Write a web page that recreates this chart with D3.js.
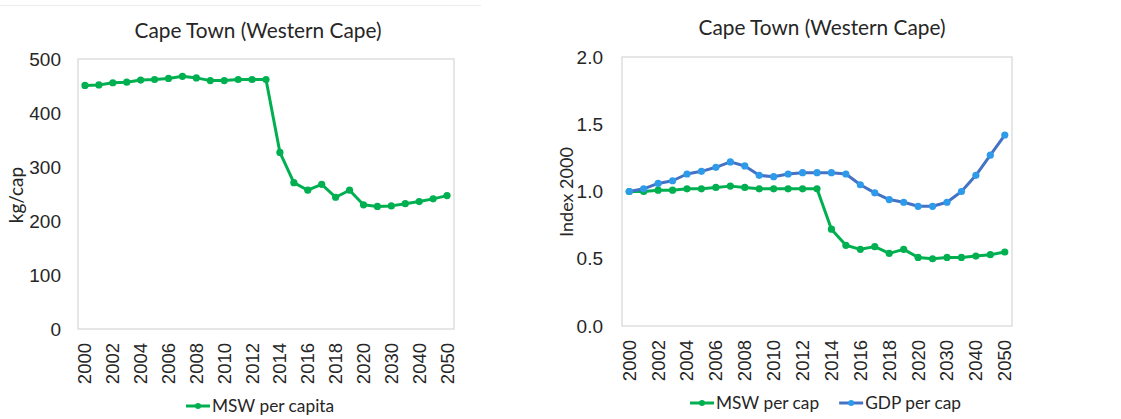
<!DOCTYPE html>
<html>
<head>
<meta charset="utf-8">
<script src="https://cdn.jsdelivr.net/npm/d3@7"></script>
<style>
  body { margin: 0; background: #fff; }
  svg { display: block; font-family: Lato, "Liberation Sans", sans-serif; }
  .tick text { fill: #262626; }
</style>
</head>
<body>
<svg id="chart" width="1121" height="419"></svg>
<script>
// categories (yearly to 2020, then 5-year steps)
var years = ['2000','2001','2002','2003','2004','2005','2006','2007','2008','2009',
  '2010','2011','2012','2013','2014','2015','2016','2017','2018','2019',
  '2020','2025','2030','2035','2040','2045','2050'];

// kg per capita
var mswPerCapita = [451, 452, 456, 457, 461, 462, 464, 468, 465, 460,
  460, 462, 462, 462, 327, 271, 257, 268, 244, 257,
  230, 227, 228, 232, 236, 241, 247];

// index, 2000 = 1
var mswIndex = [1.00, 1.00, 1.01, 1.01, 1.02, 1.02, 1.03, 1.04, 1.03, 1.02,
  1.02, 1.02, 1.02, 1.02, 0.72, 0.60, 0.57, 0.59, 0.54, 0.57,
  0.51, 0.50, 0.51, 0.51, 0.52, 0.53, 0.55];
var gdpIndex = [1.00, 1.02, 1.06, 1.08, 1.13, 1.15, 1.18, 1.22, 1.19, 1.12,
  1.11, 1.13, 1.14, 1.14, 1.14, 1.13, 1.05, 0.99, 0.94, 0.92,
  0.89, 0.89, 0.92, 1.00, 1.12, 1.27, 1.42];

var leftTicks = [0, 100, 200, 300, 400, 500];
var rightTicks = [0, 0.5, 1.0, 1.5, 2.0];

var title = 'Cape Town (Western Cape)';
var green = '#00B050', blueLine = '#4472C4', blueDot = '#2E9BEA';

var svg = d3.select('#chart');

// faint frame line across the top of the left image
svg.append('line')
  .attr('x1', 0).attr('x2', 481).attr('y1', 5.5).attr('y2', 5.5)
  .attr('stroke', '#ececec').attr('stroke-width', 1);

function drawPanel(p){
  var g = svg.append('g');

  var x = d3.scaleBand().domain(years).range([p.left, p.right]);
  var y = d3.scaleLinear().domain(p.domain).range([p.bottom, p.top]);

  // plot area border
  g.append('rect')
    .attr('x', p.left).attr('y', p.top)
    .attr('width', p.right - p.left).attr('height', p.bottom - p.top)
    .attr('fill', 'none').attr('stroke', '#d9d9d9').attr('stroke-width', 1.3);

  g.append('text')
    .attr('x', p.titleX).attr('y', p.titleY)
    .attr('text-anchor', 'middle')
    .style('font-size', '20.8px').attr('fill', '#262626')
    .text(title);

  var yAxis = d3.axisLeft(y).tickValues(p.ticks).tickSize(0).tickPadding(p.yPad)
    .tickFormat(p.fmt);
  g.append('g').attr('transform', 'translate(' + p.left + ',0)')
    .call(yAxis)
    .call(function(a){ a.select('.domain').remove(); })
    .selectAll('text').style('font-size', '19px');

  var xAxis = d3.axisBottom(x)
    .tickValues(years.filter(function(d, i){ return i % 2 == 0; }))
    .tickSize(0);
  g.append('g').attr('transform', 'translate(0,' + p.bottom + ')')
    .call(xAxis)
    .call(function(a){ a.select('.domain').remove(); })
    .selectAll('text')
    .style('font-size', '18.5px')
    .attr('text-anchor', 'end')
    .attr('dy', '0.35em')
    .attr('transform', 'translate(0,' + p.xLabelGap + ') rotate(-90)')
    .attr('x', 0).attr('y', 0);

  g.append('text')
    .attr('transform', 'translate(' + p.yTitleX + ',' + p.yTitleY + ') rotate(-90)')
    .attr('text-anchor', 'middle')
    .style('font-size', p.yTitleSize).attr('fill', '#262626')
    .text(p.yTitle);

  var line = d3.line()
    .x(function(d, i){ return x(years[i]) + x.bandwidth() / 2; })
    .y(function(d){ return y(d); });

  p.series.forEach(function(s){
    g.append('path')
      .datum(s.values)
      .attr('d', line)
      .attr('fill', 'none')
      .attr('stroke', s.stroke)
      .attr('stroke-width', 3)
      .attr('stroke-linejoin', 'round');
    g.selectAll('circle.s' + s.key)
      .data(s.values)
      .enter().append('circle')
      .attr('class', 's' + s.key)
      .attr('cx', function(d, i){ return x(years[i]) + x.bandwidth() / 2; })
      .attr('cy', function(d){ return y(d); })
      .attr('r', 3.6)
      .attr('fill', s.dot);
  });

  // legend
  var lg = g.append('g');
  var lx = p.legendX;
  p.series.forEach(function(s){
    lg.append('line')
      .attr('x1', lx).attr('x2', lx + 24)
      .attr('y1', p.legendY).attr('y2', p.legendY)
      .attr('stroke', s.stroke).attr('stroke-width', 3);
    lg.append('circle')
      .attr('cx', lx + 12).attr('cy', p.legendY).attr('r', 3)
      .attr('fill', s.dot);
    var t = lg.append('text')
      .attr('x', lx + 26).attr('y', p.legendY)
      .attr('dy', '0.35em')
      .style('font-size', '17.3px').attr('fill', '#262626')
      .text(s.name);
    lx += 26 + t.node().getComputedTextLength() + 20;
  });
}

drawPanel({
  left: 78, right: 454, top: 59, bottom: 329,
  domain: [0, 500], ticks: leftTicks, fmt: d3.format('d'), yPad: 17,
  titleX: 258, titleY: 38,
  yTitle: 'kg/cap', yTitleX: 23, yTitleY: 195, yTitleSize: '19px',
  xLabelGap: 14,
  legendX: 186, legendY: 406,
  series: [{key: 'msw', name: 'MSW per capita', values: mswPerCapita, stroke: green, dot: green}]
});

drawPanel({
  left: 622, right: 1012, top: 57, bottom: 326,
  domain: [0, 2], ticks: rightTicks, fmt: d3.format('.1f'), yPad: 19,
  titleX: 822, titleY: 35,
  yTitle: 'Index 2000', yTitleX: 573, yTitleY: 192, yTitleSize: '18px',
  xLabelGap: 14,
  legendX: 690, legendY: 403,
  series: [
    {key: 'msw', name: 'MSW per cap', values: mswIndex, stroke: green, dot: green},
    {key: 'gdp', name: 'GDP per cap', values: gdpIndex, stroke: blueLine, dot: blueDot}
  ]
});
</script>
</body>
</html>
